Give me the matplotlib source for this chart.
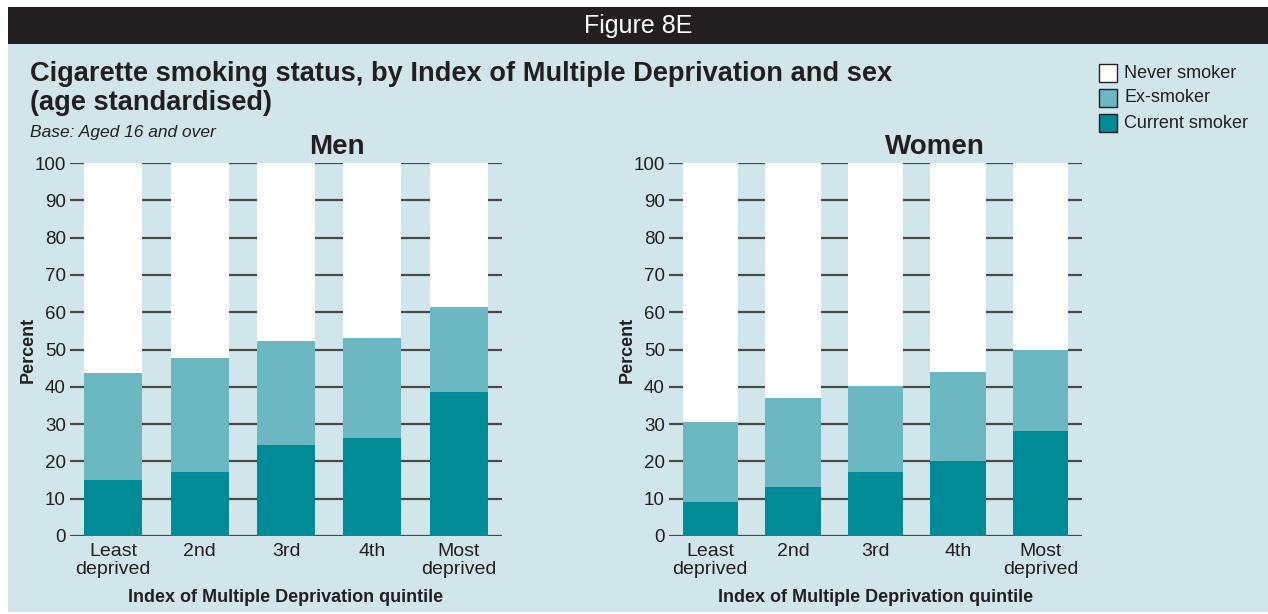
import matplotlib
matplotlib.use("Agg")
import matplotlib.pyplot as plt
from matplotlib.patches import Rectangle
import numpy as np

categories = ["Least\ndeprived", "2nd", "3rd", "4th", "Most\ndeprived"]
men_current = [15.0, 17.2, 24.4, 26.3, 38.6]
men_ex = [28.7, 30.5, 27.9, 26.8, 22.8]
women_current = [9.1, 13.1, 17.2, 20.1, 28.2]
women_ex = [21.5, 23.9, 23.0, 23.9, 21.7]
yticks = [0, 10, 20, 30, 40, 50, 60, 70, 80, 90, 100]

C_CUR = "#008B96"
C_EX = "#6BB8C3"
C_NEV = "#FFFFFF"
BG = "#D0E6EB"
HEAD = "#231F20"
GRID = "#4a4a4a"
TXT = "#231F20"

plt.rcParams['font.family'] = ['Liberation Sans', 'DejaVu Sans']

W, H = 1268, 614
fig = plt.figure(figsize=(W / 100, H / 100), dpi=100)
fig.patch.set_facecolor("white")

def fx(px):
    return px / W

def fy(py):
    return 1 - py / H

# background panel
fig.patches.append(Rectangle((fx(8), fy(612)), fx(1268 - 8), (612 - 44) / H,
                             transform=fig.transFigure, facecolor=BG, edgecolor="none", zorder=-10))
# header band
fig.patches.append(Rectangle((fx(8), fy(44)), fx(1268 - 8), (44 - 7) / H,
                             transform=fig.transFigure, facecolor=HEAD, edgecolor="none", zorder=-10))
fig.text(fx(638), fy(26), "Figure 8E", color="white", fontsize=18, ha="center", va="center")

fig.text(fx(30), fy(74), "Cigarette smoking status, by Index of Multiple Deprivation and sex",
         fontsize=19.6, fontweight="bold", color=TXT, ha="left", va="center")
fig.text(fx(30), fy(103), "(age standardised)",
         fontsize=19.6, fontweight="bold", color=TXT, ha="left", va="center")
fig.text(fx(30), fy(133), "Base: Aged 16 and over", fontsize=12.5, style="italic",
         color=TXT, ha="left", va="center")

# legend
leg_items = [("Never smoker", C_NEV), ("Ex-smoker", C_EX), ("Current smoker", C_CUR)]
for i, (lab, col) in enumerate(leg_items):
    yc = 73 + i * 25
    fig.patches.append(Rectangle((fx(1099), fy(yc + 9)), fx(18), 18 / H,
                                 transform=fig.transFigure, facecolor=col,
                                 edgecolor=TXT, linewidth=1.0, zorder=2))
    fig.text(fx(1124), fy(yc), lab, fontsize=13, color=TXT, ha="left", va="center")

def draw_panel(left_px, right_px, title, title_x, current, ex, ylab_px):
    width_px = right_px - left_px
    ax = fig.add_axes([fx(left_px), fy(536), fx(width_px), (536 - 163) / H])
    ax.set_facecolor("none")
    x = np.arange(len(categories))
    never = [100 - c - e for c, e in zip(current, ex)]
    bottom_ex = current
    bottom_nev = [c + e for c, e in zip(current, ex)]
    ax.bar(x, current, width=0.67, color=C_CUR, zorder=3, linewidth=0)
    ax.bar(x, ex, bottom=bottom_ex, width=0.67, color=C_EX, zorder=3, linewidth=0)
    ax.bar(x, never, bottom=bottom_nev, width=0.67, color=C_NEV, zorder=3, linewidth=0)
    ax.set_xlim(-0.5, 4.5)
    ax.set_ylim(0, 100)
    ax.set_yticks(yticks)
    ax.set_yticklabels([str(v) for v in yticks], fontsize=13.5, color=TXT)
    ax.yaxis.grid(True, color=GRID, linewidth=1.6, zorder=1)
    ax.set_axisbelow(True)
    ax.tick_params(axis="y", length=0, pad=3)
    ax.set_xticks(x)
    ax.set_xticklabels(categories, fontsize=14, color=TXT, linespacing=1.1)
    ax.tick_params(axis="x", length=0, pad=5)
    for s in ax.spines.values():
        s.set_visible(False)
    ax.set_xlabel("Index of Multiple Deprivation quintile", fontsize=13,
                  fontweight="bold", color=TXT, labelpad=8)
    ax.set_ylabel("Percent", fontsize=13, fontweight="bold", color=TXT)
    ax.yaxis.set_label_coords((ylab_px - left_px) / width_px, 0.5)
    fig.text(fx(title_x), fy(147), title, fontsize=20, fontweight="bold",
             color=TXT, ha="center", va="center")
    return ax

draw_panel(70, 502, "Men", 337, men_current, men_ex, 37)
draw_panel(669, 1082, "Women", 935, women_current, women_ex, 636)

fig.savefig("out.png", dpi=100, facecolor=fig.get_facecolor())
